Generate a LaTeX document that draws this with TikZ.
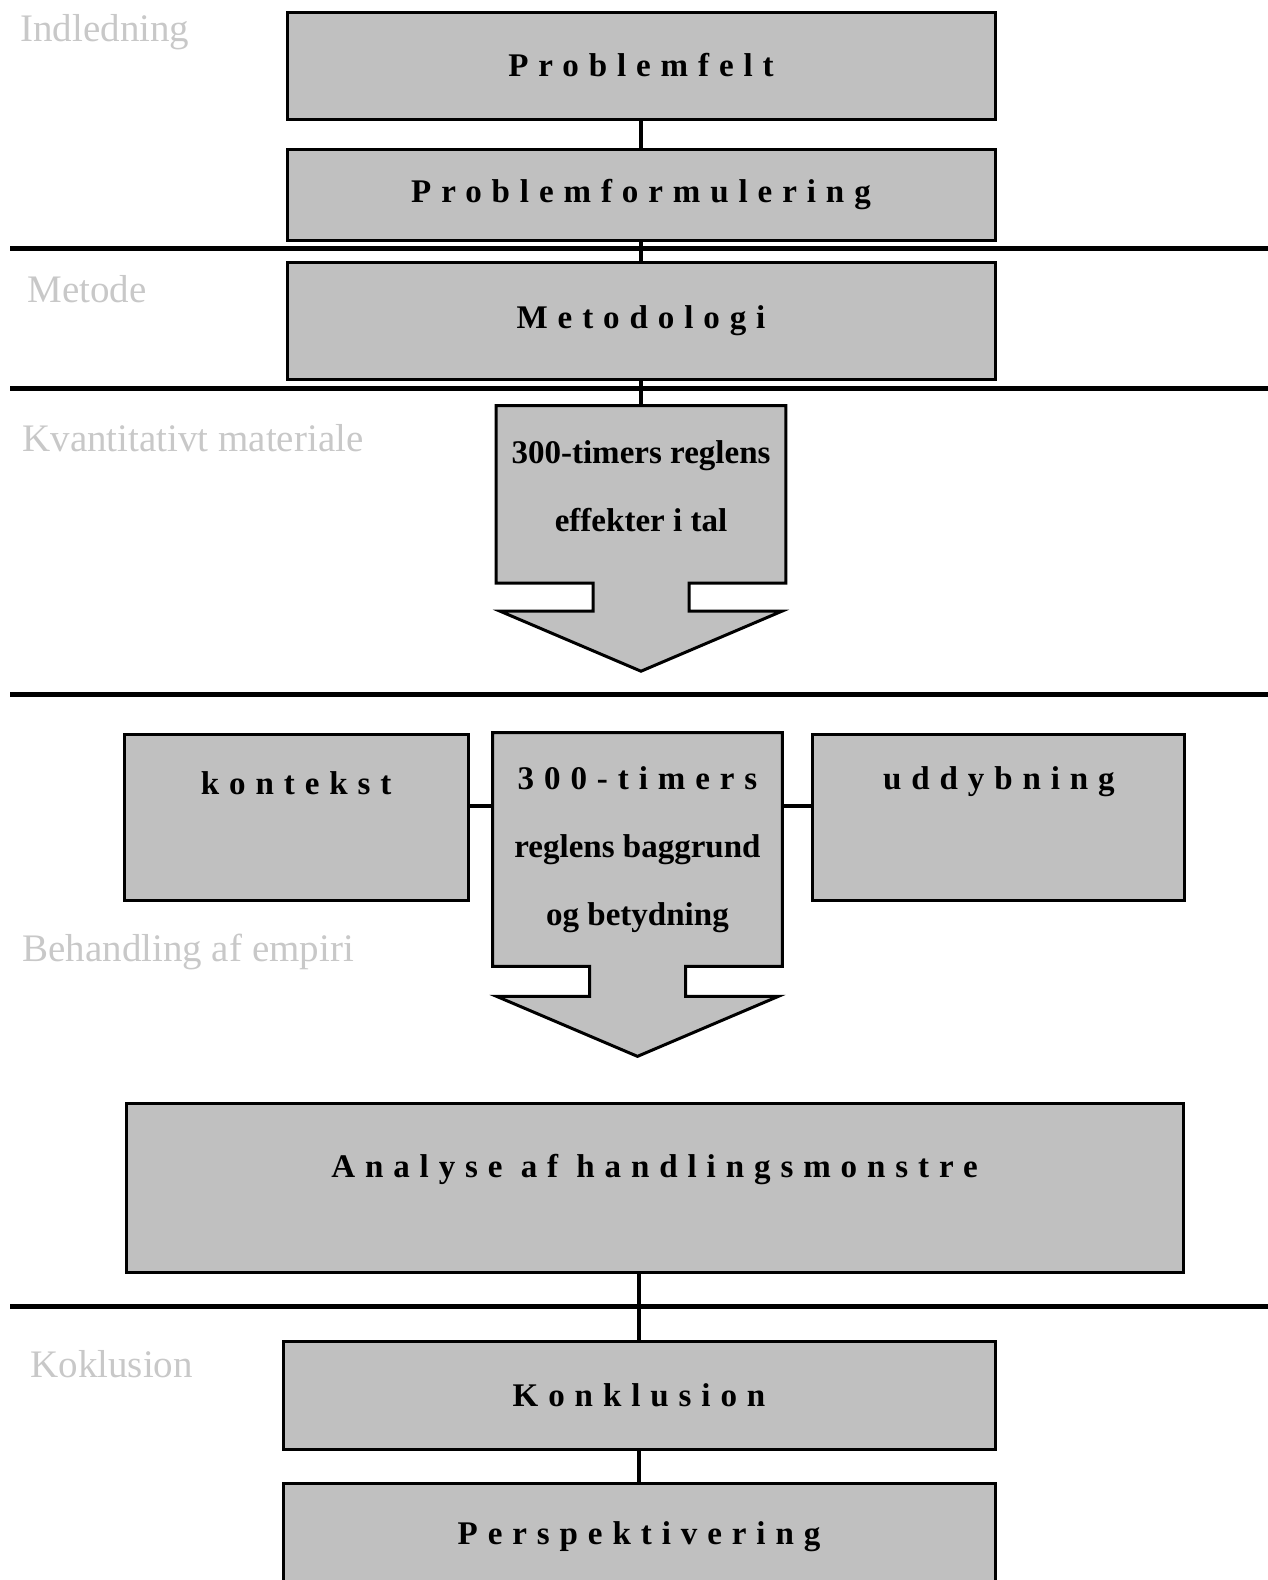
\documentclass[tikz,border=0pt]{standalone}
\usepackage{fontspec}
\setmainfont{Liberation Serif}
\newfontfamily\spaced[LetterSpace=30]{Liberation Serif}
\usetikzlibrary{positioning, calc, backgrounds}
\newdimen\px \px=0.02cm
\definecolor{boxgray}{RGB}{192,192,192}
\definecolor{labelgray}{RGB}{200,200,200}

\begin{document}
\begin{tikzpicture}[
    x=0.02cm, y=-0.02cm,
    box/.style={rectangle, draw=black, line width=3\px, fill=boxgray, align=center,
        inner sep=0pt, font=\spaced\bfseries\fontsize{18.8}{38.7}\selectfont},
    arrowbox/.style={rectangle, inner sep=0pt, minimum width=289\px},
    arrowtext/.style={align=center, inner sep=0pt,
        font=\bfseries\fontsize{18.8}{38.7}\selectfont},
    outline/.style={draw=black, line width=3\px, fill=boxgray, line join=miter},
    link/.style={draw=black, line width=4\px},
    divider/.style={draw=black, line width=5\px},
    section/.style={anchor=west, inner sep=0pt, text=labelgray,
        font=\fontsize{22.2}{24}\selectfont}
]
\useasboundingbox (0,0) rectangle (1268,1580);
\clip (0,0) rectangle (1268,1580);

% sections
\foreach \y in {248,388,694,1306}
    \draw[divider] (10,\y) -- (1268,\y);
\node[section] (lind) at (20,32) {Indledning};
\node[section] (lmet) at (27,289) {Metode};
\node[section] (lkvant) at (22,438) {Kvantitativt materiale};
\node[section] (lbeh) at (22,952) {Behandling af empiri};
\node[section] (lkon) at (30,1364) {Koklusion};

% main column
\node[box, minimum width=708\px, minimum height=107\px] (felt) at (641,65.5) {Problemfelt};
\node[box, minimum width=708\px, minimum height=91\px, below=27\px of felt] (formul) {Problemformulering};
\node[box, minimum width=708\px, minimum height=117\px, below=19\px of formul] (metod) {Metodologi};
\node[arrowbox, minimum height=177\px, below=25\px of metod] (kvant) {};
\node[arrowtext] (kvanttxt) at ($(kvant.center)+(0,-8)$) {300-timers reglens\\effekter i tal};

\node[arrowbox, minimum height=233\px] (regel) at (637.5,849.5) {};
\node[arrowtext] (regeltxt) at (regel.center) {{\spaced 300-timers}\\reglens baggrund\\og betydning};
\node[box, minimum width=344\px, text height=60\px, text depth=106\px,
    left=23\px of regel.north west, anchor=north east] (kontekst) {kontekst};
\node[box, minimum width=372\px, text height=55\px, text depth=111\px,
    right=29\px of regel.north east, anchor=north west] (uddyb) {uddybning};

\node[box, minimum width=1057\px, text height=74\px, text depth=95\px] (analyse) at (654.5,1187.5) {Analyse af handlingsmonstre};
\node[box, minimum width=712\px, minimum height=108\px] (konkl) at (639,1395) {Konklusion};
\node[box, minimum width=712\px, minimum height=108\px, below=31\px of konkl] (persp) {Perspektivering};

% block arrows
\begin{scope}[on background layer]
\foreach \a/\s in {kvant/28, regel/30}
    \draw[outline] (\a.north west) -- (\a.north east) -- (\a.south east)
        -- ($(\a.south)+(48,0)$) -- ++(0,\s) -- ($(\a.south east)+(-4,\s)$)
        -- ($(\a.south)+(0,\s+60)$) -- ($(\a.south west)+(4,\s)$)
        -- ($(\a.south)+(-48,\s)$) -- ($(\a.south)+(-48,0)$)
        -- (\a.south west) -- cycle;
\end{scope}

% connectors
\coordinate (midrow) at (641,806);
\draw[link] (felt) -- (formul);
\draw[link] (formul) -- (metod);
\draw[link] (metod) -- (kvant);
\draw[link] (kontekst.east |- midrow) -- (regel.west |- midrow);
\draw[link] (regel.east |- midrow) -- (uddyb.west |- midrow);
\draw[link] (analyse.south -| konkl.north) -- (konkl.north);
\draw[link] (konkl) -- (persp);
\end{tikzpicture}
\end{document}
